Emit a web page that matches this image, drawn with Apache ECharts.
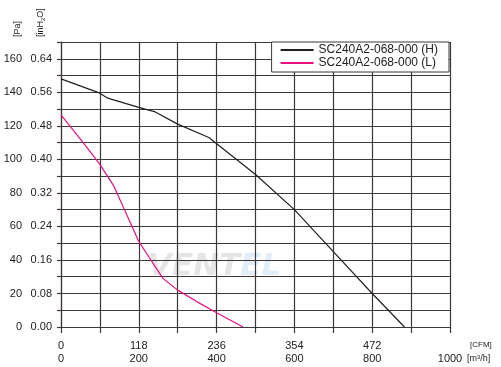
<!DOCTYPE html>
<html>
<head>
<meta charset="utf-8">
<script src="https://cdn.jsdelivr.net/npm/echarts@6/dist/echarts.min.js"></script>
<style>
  html, body { margin: 0; padding: 0; background: #fff; }
  #main { width: 501px; height: 367px; }
</style>
</head>
<body>
<div id="main"></div>
<script>
// curve data (flow in m3/h, pressure in Pa)
const seriesNames = ['SC240A2-068-000 (H)', 'SC240A2-068-000 (L)'];
const flowH = [0, 100, 120, 200, 240, 300, 380, 500, 600, 700, 800, 883];
const pressH = [148, 139.5, 136.5, 131, 128.5, 121, 113, 91, 70, 45, 20, 0];
const flowL = [0, 62, 100, 136, 200, 262, 300, 350, 400, 468];
const pressL = [126.5, 108.5, 97, 84, 51, 29, 22, 15, 8.5, 0];

// tick labels
const m3hTicks = [0, 200, 400, 600, 800, 1000];
const cfmTicks = ['0', '118', '236', '354', '472', ''];
const paTicks = [0, 20, 40, 60, 80, 100, 120, 140, 160];
const inH2OTicks = ['0.00', '0.08', '0.16', '0.24', '0.32', '0.40', '0.48', '0.56', '0.64'];

const font = 'Liberation Sans';
const gridColor = '#3d3737';

const toPairs = (xs, ys) => xs.map((x, i) => [x, ys[i]]);

const chart = echarts.init(document.getElementById('main'));

const option = {
  animation: false,
  textStyle: { fontFamily: font },
  grid: { left: 61, right: 51, top: 42, bottom: 40 },
  legend: {
    data: seriesNames,
    orient: 'vertical',
    right: 52,
    top: 42,
    itemWidth: 33,
    itemHeight: 12,
    itemGap: 1,
    padding: [2, 11, 3, 8],
    backgroundColor: '#fff',
    borderColor: gridColor,
    borderWidth: 1,
    itemStyle: { opacity: 0 }, // hide the dot, keep only the line sample
    textStyle: { fontSize: 12, color: '#222', fontFamily: font }
  },
  xAxis: {
    type: 'value',
    min: 0,
    max: 1000,
    interval: 100,
    axisLine: { show: true, lineStyle: { color: gridColor, width: 1.2 } },
    axisTick: { show: true, length: 6, lineStyle: { color: gridColor, width: 1.2 } },
    splitLine: { show: true, lineStyle: { color: gridColor, width: 1.2 } },
    axisLabel: {
      margin: 12,
      fontSize: 11,
      lineHeight: 13,
      color: '#222',
      formatter: (v) => {
        const i = m3hTicks.indexOf(v);
        if (i < 0) return '';
        return (cfmTicks[i] || ' ') + '\n' + v;
      }
    }
  },
  yAxis: {
    type: 'value',
    min: 0,
    max: 170,
    interval: 10,
    axisLine: { show: true, lineStyle: { color: gridColor, width: 1.2 } },
    axisTick: { show: true, length: 4, lineStyle: { color: gridColor, width: 1.2 } },
    splitLine: { show: true, lineStyle: { color: gridColor, width: 1.2 } },
    axisLabel: {
      margin: 9,
      fontSize: 11,
      color: '#222',
      formatter: (v) => {
        const i = paTicks.indexOf(v);
        if (i < 0) return '';
        return '{a|' + v + '}{b|' + inH2OTicks[i] + '}';
      },
      rich: {
        a: { width: 24, align: 'right', fontSize: 11, color: '#222', fontFamily: font },
        b: { width: 30, align: 'right', fontSize: 11, color: '#222', fontFamily: font }
      }
    }
  },
  graphic: [
    {
      type: 'text', left: 148, top: 251, z: -1, silent: true,
      style: {
        text: '{v|VENT}{e|EL}',
        rich: {
          v: { fontSize: 31, fontWeight: 'bold', fontStyle: 'italic', fill: 'rgba(0,0,0,0.10)', fontFamily: 'DejaVu Sans' },
          e: { fontSize: 31, fontWeight: 'bold', fontStyle: 'italic', fill: 'rgba(70,140,210,0.16)', fontFamily: 'DejaVu Sans' }
        }
      }
    },
    {
      type: 'text', x: 18, y: 37, rotation: Math.PI / 2,
      style: { text: '[Pa]', fontSize: 9, fill: '#222', fontFamily: font, textAlign: 'left', textVerticalAlign: 'middle' }
    },
    {
      type: 'text', x: 41, y: 37, rotation: Math.PI / 2,
      style: {
        text: '[inH{s|2}O]', fontSize: 9, fill: '#222', fontFamily: font,
        textAlign: 'left', textVerticalAlign: 'middle',
        rich: { s: { fontSize: 6, padding: [5, 0, 0, 0], fontFamily: font, fill: '#222' } }
      }
    },
    {
      type: 'text', x: 470, y: 345,
      style: { text: '[CFM]', fontSize: 8, fill: '#222', fontFamily: font, textVerticalAlign: 'middle' }
    },
    {
      type: 'text', x: 467, y: 359,
      style: {
        text: '[m{s|3}/h]', fontSize: 9, fill: '#222', fontFamily: font, textVerticalAlign: 'middle',
        rich: { s: { fontSize: 6, padding: [0, 0, 4, 0], fontFamily: font, fill: '#222' } }
      }
    }
  ],
  series: [
    {
      name: seriesNames[0],
      type: 'line',
      data: toPairs(flowH, pressH),
      symbol: 'none',
      lineStyle: { color: '#231f20', width: 1.2 },
      itemStyle: { color: '#231f20' },
      z: 5
    },
    {
      name: seriesNames[1],
      type: 'line',
      data: toPairs(flowL, pressL),
      symbol: 'none',
      lineStyle: { color: '#e8107f', width: 1.2 },
      itemStyle: { color: '#e8107f' },
      z: 5
    }
  ]
};

chart.setOption(option);
</script>
</body>
</html>
